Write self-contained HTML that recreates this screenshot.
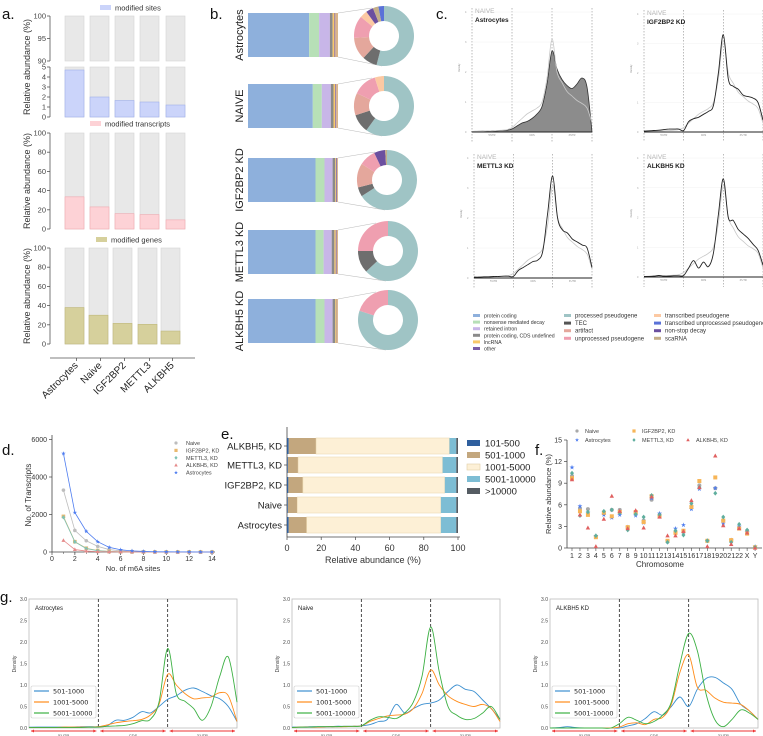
<!DOCTYPE html>
<html><head><meta charset="utf-8"><style>
html,body{margin:0;padding:0;background:#fff;}
svg{display:block;font-family:"Liberation Sans",sans-serif;}
</style></head><body>
<svg id="fig" width="763" height="736" viewBox="0 0 763 736" xmlns="http://www.w3.org/2000/svg"></svg>
<script>
// ---------- data ----------
const aCats=['Astrocytes','Naive','IGF2BP2','METTL3','ALKBH5'];
const aSites=[4.7,2.0,1.65,1.5,1.2];
const aTranscripts=[33.5,23,16,15,9.5];
const aGenes=[38,30,21.5,20.5,13.5];

const bSamples=['Astrocytes','NAIVE','IGF2BP2 KD','METTL3 KD','ALKBH5 KD'];
const bTypes=['protein coding','nonsense mediated decay','retained intron','protein coding, CDS undefined','lncRNA','other','pseudogenes'];
const bAstro=[68,11,12,3,2,1,3];
const bNaive=[72,10,10,3,2,1,2];
const bIgf=[75,10,9,3,1,1,1];
const bMettl=[75,9,9,3,1.5,1,1.5];
const bAlk=[75,10,9,3,1.5,0.5,1];
const pTypes=['processed pseudogene','TEC','artifact','unprocessed pseudogene','transcribed pseudogene','non-stop decay','scaRNA','transcribed unprocessed pseudogene'];
const pAstro=[54,8,12,12,4,4,3,3];
const pNaive=[60,10,12,13,5,0,0,0];
const pIgf=[66,5,13,9,0,6,1,0];
const pMettl=[63,12,0,25,0,0,0,0];
const pAlk=[80,0,0,20,0,0,0,0];

const cNaive=[0.02,0.03,0.03,0.04,0.04,0.05,0.06,0.08,0.15,0.3,0.45,0.6,0.7,0.8,1.0,1.8,3.1,2.0,1.65,1.35,1.2,1.05,0.95,0.8,0.3];
const cAstro=[0.02,0.02,0.03,0.03,0.04,0.04,0.05,0.06,0.1,0.2,0.3,0.35,0.45,0.6,0.85,1.6,2.7,2.1,1.75,1.55,1.45,1.6,1.8,1.5,0.0];
const cIgf=[0.03,0.04,0.05,0.06,0.08,0.1,0.1,0.1,0.05,0.35,0.45,0.5,0.6,0.7,0.9,2.0,3.3,1.8,1.55,1.45,1.25,1.2,1.15,1.0,0.4];
const cMettl=[0.03,0.03,0.04,0.04,0.05,0.05,0.06,0.06,0.05,0.25,0.35,0.45,0.55,0.6,0.9,2.2,3.4,2.0,1.6,1.5,1.3,1.2,1.1,1.0,0.35];
const cAlk=[0.02,0.02,0.03,0.05,0.03,0.03,0.04,0.04,0.05,0.3,0.55,0.3,0.5,0.35,0.8,2.1,3.3,2.0,1.9,1.6,1.45,1.3,1.1,0.9,0.4];

const dSites=[1,2,3,4,5,6,7,8,9,10,11,12,13,14];
const dNaive=[3300,1150,600,300,130,60,30,15,8,4,2,1,1,0];
const dIgf=[1900,550,200,80,30,15,8,4,2,1,0,0,0,0];
const dMettl=[1850,540,180,70,28,12,6,3,1,1,0,0,0,0];
const dAlk=[620,130,50,20,10,5,2,1,0,0,0,0,0,0];
const dAstro=[5250,2100,1100,550,250,120,60,30,15,10,5,3,2,1];
const dTicksX=[0,2,4,6,8,10,12,14];
const dTicksY=[0,2000,4000,6000];

const eRows=['ALKBH5, KD','METTL3, KD','IGF2BP2, KD','Naive','Astrocytes'];
const eBins=['101-500','501-1000','1001-5000','5001-10000','>10000'];
const e101=[1,0.5,0.8,0.5,1];
const e501=[16,6,8.5,5.5,10.5];
const e1001=[78,84.5,83,84,78.5];
const e5001=[4,8,6.7,9,9];
const e10000=[1,1,1,1,1];
const eTicks=[0,20,40,60,80,100];

const fChr=['1','2','3','4','5','6','7','8','9','10','11','12','13','14','15','16','17','18','19','20','21','22','X','Y'];
const fNaive=[10.0,5.5,5.4,1.6,4.8,5.3,5.3,2.8,4.8,3.8,6.7,4.6,0.9,2.2,2.2,5.8,8.7,1.0,8.3,3.8,1.0,2.8,2.4,0.1];
const fAstro=[11.2,5.8,4.9,1.7,4.6,4.2,4.6,2.9,4.5,3.5,6.9,4.8,0.9,2.7,3.2,5.4,8.2,1.0,8.3,3.4,1.1,3.0,2.2,0.2];
const fIgf=[9.7,5.1,4.6,1.5,4.9,4.4,5.0,2.9,5.0,3.6,7.2,4.4,1.0,2.1,2.4,5.7,9.3,1.0,9.8,3.8,1.1,2.7,2.0,0.1];
const fMettl=[10.4,4.5,5.0,1.7,5.1,5.3,4.9,2.5,4.7,4.3,7.3,4.6,0.8,2.4,1.8,6.2,8.4,1.0,7.6,4.3,0.8,3.3,2.5,0.1];
const fAlk=[9.5,4.6,2.8,0.2,4.0,7.2,5.1,2.7,5.2,2.8,7.1,4.3,1.7,1.7,2.3,6.6,8.4,0.2,12.8,3.1,0.5,2.7,2.1,0.0];
const fTicks=[0,3,6,9,12,15];

const gAstroBlue=[0.02,0.02,0.02,0.02,0.02,0.02,0.03,0.03,0.03,0.05,0.18,0.18,0.25,0.38,0.35,0.5,0.67,0.75,0.88,0.93,0.85,0.75,0.68,0.5,0.15];
const gAstroOrange=[0.01,0.01,0.01,0.01,0.02,0.02,0.02,0.02,0.03,0.07,0.12,0.15,0.17,0.2,0.3,0.55,1.25,1.0,0.8,0.68,0.7,0.72,0.82,0.75,0.15];
const gAstroGreen=[0.01,0.01,0.01,0.01,0.01,0.01,0.01,0.02,0.02,0.04,0.05,0.06,0.1,0.17,0.2,0.6,1.85,0.8,0.62,0.45,0.18,0.5,1.2,1.65,0.6];
const gNaiveBlue=[0.02,0.02,0.03,0.03,0.03,0.04,0.04,0.04,0.05,0.08,0.15,0.2,0.55,0.35,0.45,0.55,0.58,0.65,0.85,1.0,0.9,0.85,0.65,0.45,0.2];
const gNaiveOrange=[0.01,0.02,0.02,0.02,0.03,0.03,0.03,0.04,0.05,0.15,0.22,0.28,0.3,0.32,0.45,0.8,1.35,1.0,0.75,0.62,0.55,0.5,0.55,0.45,0.15];
const gNaiveGreen=[0.01,0.02,0.02,0.03,0.03,0.03,0.04,0.04,0.05,0.18,0.26,0.25,0.22,0.35,0.6,1.2,2.35,1.3,0.5,0.3,0.2,0.22,0.35,0.5,0.2];
const gAlkBlue=[0.0,0.01,0.03,0.01,0.0,0.0,0.0,0.0,0.0,0.05,0.1,0.22,0.38,0.3,0.5,0.72,0.5,0.9,1.15,1.18,1.05,0.9,0.55,0.4,0.2];
const gAlkOrange=[0,0,0,0,0,0,0,0,0.02,0.1,0.12,0.08,0.2,0.25,0.55,1.3,1.7,0.95,0.88,0.7,0.6,0.58,0.55,0.4,0.2];
const gAlkGreen=[0,0,0,0,0,0,0,0,0.1,0.25,0.18,0.1,0.15,0.3,0.6,1.5,2.2,1.8,0.8,0.2,0.03,0.2,0.42,0.35,0.2];
const gTicks=[0,0.5,1,1.5,2,2.5,3];

// ---------- helpers ----------
const NS='http://www.w3.org/2000/svg';
const svg=document.getElementById('fig');
function mk(tag,attrs,parent){const e=document.createElementNS(NS,tag);for(const k in attrs)e.setAttribute(k,attrs[k]);(parent||svg).appendChild(e);return e;}
function nm(e,n){


return e;}
function txt(x,y,s,size,attrs){const e=mk('text',Object.assign({x:x,y:y,'font-size':size,fill:'#222'},attrs||{}));e.textContent=s;return e;}
function line(x1,y1,x2,y2,st,w,extra){return mk('line',Object.assign({x1:x1,y1:y1,x2:x2,y2:y2,stroke:st,'stroke-width':w||1},extra||{}));}
function smooth(pts){let d='M'+pts[0][0]+','+pts[0][1];for(let i=0;i<pts.length-1;i++){const p0=pts[i-1]||pts[i],p1=pts[i],p2=pts[i+1],p3=pts[i+2]||p2;
const c1x=p1[0]+(p2[0]-p0[0])/6,c1y=p1[1]+(p2[1]-p0[1])/6,c2x=p2[0]-(p3[0]-p1[0])/6,c2y=p2[1]-(p3[1]-p1[1])/6;
d+=' C'+c1x.toFixed(1)+','+c1y.toFixed(1)+' '+c2x.toFixed(1)+','+c2y.toFixed(1)+' '+p2[0].toFixed(1)+','+p2[1].toFixed(1);}return d;}
function marker(type,x,y,col,s){s=s||2.2;let e;
if(type==='circle')e=mk('circle',{cx:x,cy:y,r:s,fill:col});
else if(type==='square')e=mk('rect',{x:x-s,y:y-s,width:2*s,height:2*s,fill:col});
else if(type==='tri')e=mk('path',{d:`M${x},${y-s*1.2} L${x+s*1.1},${y+s*0.8} L${x-s*1.1},${y+s*0.8}Z`,fill:col});
else if(type==='diamond')e=mk('path',{d:`M${x},${y-s*1.2} L${x+s},${y} L${x},${y+s*1.2} L${x-s},${y}Z`,fill:col});
else {let p='';for(let i=0;i<10;i++){const r=i%2?s*0.5:s*1.3,a=-Math.PI/2+i*Math.PI/5;p+=(i?'L':'M')+(x+r*Math.cos(a)).toFixed(1)+','+(y+r*Math.sin(a)).toFixed(1);}e=mk('path',{d:p+'Z',fill:col});}
return e;}

// ---------- panel labels ----------
[['a.',2,19],['b.',210,19],['c.',436,19],['d.',2,455],['e.',221,439],['f.',535,455],['g.',0,602]].forEach(l=>{
const e=txt(l[1],l[2],l[0],15,{fill:'#111'});
nm(e,'panel-label-'+l[0][0]);});

// ---------- panel a ----------
const aX=[65,90,115,140,166], aXb=[65,89,113,138,161], aW=19;
const ySitesLow=v=>117-v*10, ySitesHigh=v=>61-(v-90)*4.5;
const yMid=v=>229-v*0.96, yBot=v=>344-v*0.96;
function aAxis(ticks,yf,name){const ax=line(50,yf(ticks[ticks.length-1]),50,yf(ticks[0]),'#555',0.8);nm(ax,name+'-y-axis');
ticks.forEach(t=>{const tk=line(47,yf(t),50,yf(t),'#555',0.8);nm(tk,name+'-tick');const lb=txt(46,yf(t)+2.5,String(t),7.5,{'text-anchor':'end',fill:'#444'});nm(lb,name+'-tick-label');});}
aAxis([90,95,100],ySitesHigh,'sites-upper');aAxis([0,1,2,3,4,5],ySitesLow,'sites-lower');
aAxis([0,20,40,60,80,100],yMid,'transcripts');aAxis([0,20,40,60,80,100],yBot,'genes');
aCats.forEach((c,i)=>{
 let r=mk('rect',{x:aX[i],y:16,width:aW,height:45,fill:'#e8e8e8',stroke:'#d4d4d4','stroke-width':0.6});nm(r,'sites-bg-upper-'+c);
 r=mk('rect',{x:aX[i],y:67,width:aW,height:50,fill:'#e8e8e8',stroke:'#d4d4d4','stroke-width':0.6});nm(r,'sites-bg-'+c);
 r=mk('rect',{x:aX[i],y:ySitesLow(aSites[i]),width:aW,height:117-ySitesLow(aSites[i]),fill:'#cbd4fa',stroke:'#9fb0ea','stroke-width':0.6});nm(r,'sites-bar-'+c);
 r=mk('rect',{x:aX[i],y:yMid(100),width:aW,height:96,fill:'#e8e8e8',stroke:'#d4d4d4','stroke-width':0.6});nm(r,'transcripts-bg-'+c);
 r=mk('rect',{x:aX[i],y:yMid(aTranscripts[i]),width:aW,height:229-yMid(aTranscripts[i]),fill:'#fdd2d6',stroke:'#f0a9b0','stroke-width':0.6});nm(r,'transcripts-bar-'+c);
 r=mk('rect',{x:aXb[i],y:yBot(100),width:aW,height:96,fill:'#e8e8e8',stroke:'#d4d4d4','stroke-width':0.6});nm(r,'genes-bg-'+c);
 r=mk('rect',{x:aXb[i],y:yBot(aGenes[i]),width:aW,height:344-yBot(aGenes[i]),fill:'#d6d09c',stroke:'#bfb87c','stroke-width':0.6});nm(r,'genes-bar-'+c);
 const cx=aXb[i]+aW/2+2;
 const tk=line(cx,358,cx,361,'#555',0.8);nm(tk,'a-x-tick');
 const lb=txt(cx+2,366,c,10,{'text-anchor':'end',transform:`rotate(-45 ${cx+2} 366)`});nm(lb,'a-x-label-'+c);
});
nm(line(50,358,195,358,'#555',0.8),'a-x-axis');
[[100,8,'modified sites','#cbd4fa'],[90,124,'modified transcripts','#fdd2d6'],[96,240,'modified genes','#d6d09c']].forEach(l=>{
 const s=mk('rect',{x:l[0],y:l[1]-3,width:11,height:5,fill:l[3]});nm(s,'a-legend-swatch');
 const t=txt(l[0]+15,l[1]+2.5,l[2],7.5,{fill:'#333'});nm(t,'a-legend-'+l[2].replace(' ','-'));});
[[67],[181],[296]].forEach((y,i)=>{const t=txt(30,y[0],'Relative abundance (%)',9,{'text-anchor':'middle',transform:`rotate(-90 30 ${y[0]})`,fill:'#333'});nm(t,'a-y-axis-title');});

// ---------- panel b ----------
const bColors=['#8eb0dc','#b7e0b7','#c8b6e8','#8a8a8a','#f8c96a','#7b5ea7','#d9b48a'];
const pColors=['#9fc4c5','#6e6e6e','#e4a79c','#ef9fb0','#fcc9a3','#6b4f9f','#c4ae88','#5a72d8'];
const bData=[bAstro,bNaive,bIgf,bMettl,bAlk], pData=[pAstro,pNaive,pIgf,pMettl,pAlk];
const bTop=[13,84,158,230,299], bH=44, bx=v=>248+v*0.9;
const dCx=[384,384,387,388,388], dCy=[36,106,180,251,320], R=30, r0=15;
bSamples.forEach((s,i)=>{
 let acc=0;
 bData[i].forEach((v,j)=>{const r=mk('rect',{x:bx(acc),y:bTop[i],width:v*0.9,height:bH,fill:bColors[j]});nm(r,'b-bar-'+bTypes[j].replace(/[ ,]+/g,'-'));acc+=v;});
 const cy=bTop[i]+bH/2;
 const lb=txt(243,cy,s,11,{'text-anchor':'middle',transform:`rotate(-90 243 ${cy})`,fill:'#222'});nm(lb,'b-row-label-'+s);
 const cx=dCx[i],dy=dCy[i];
 nm(line(bx(100),bTop[i],cx-12,dy-R+2,'#bbb',0.6),'b-connector-top');
 nm(line(bx(100),bTop[i]+bH,cx-2,dy+R,'#bbb',0.6),'b-connector-bottom');
 const tot=pData[i].reduce((a,b)=>a+b,0);let a0=0;
 pData[i].forEach((v,j)=>{if(!v)return;const a1=a0+v/tot*2*Math.PI;
  const p=(a,rr)=>[cx+rr*Math.sin(a),dy-rr*Math.cos(a)];const lg=(a1-a0)>Math.PI?1:0;
  const [x0,y0]=p(a0,R),[x1,y1]=p(a1,R),[x2,y2]=p(a1,r0),[x3,y3]=p(a0,r0);
  const sl=mk('path',{d:`M${x0},${y0} A${R},${R} 0 ${lg} 1 ${x1},${y1} L${x2},${y2} A${r0},${r0} 0 ${lg} 0 ${x3},${y3}Z`,fill:pColors[j]});
  nm(sl,'b-donut-slice-'+pTypes[j].replace(/ /g,'-'));a0=a1;});
});

// ---------- panel c ----------
const cPlots=[{L:472,R:592,base:132,top:12,name:'Astrocytes',d:cAstro,fill:true},{L:644,R:763,base:132,top:14,name:'IGF2BP2 KD',d:cIgf},
{L:474,R:592,base:278,top:158,name:'METTL3 KD',d:cMettl},{L:644,R:763,base:277,top:158,name:'ALKBH5 KD',d:cAlk}];
cPlots.forEach((p,k)=>{
 const w=p.R-p.L, gx=t=>p.L+t/24*w, gy=v=>p.base-v*(p.base-p.top)/4;
 [0,1/3,2/3,1].forEach(f=>nm(line(p.L+f*w,p.top-4,p.L+f*w,p.base+10,'#777',0.5,{'stroke-dasharray':'1.5,1.5'}),'c-region-divider'));
 [0,1,2,3,4].forEach(v=>{nm(line(p.L,gy(v),p.R,gy(v),'#f0f0f0',0.5),'c-gridline');nm(txt(p.L-7,gy(v)+1,String(v),2.5,{fill:'#999'}),'c-tick-label');});
 const pts=p.d.map((v,i)=>[gx(i),gy(v)]);
 if(p.fill){nm(mk('path',{d:smooth(pts)+` L${p.R},${p.base} L${p.L},${p.base}Z`,fill:'#8c8c8c',stroke:'#333','stroke-width':0.8}),'c-astrocytes-density-area');}
 const np=cNaive.map((v,i)=>[gx(i),gy(v)]);
 nm(mk('path',{d:smooth(np),fill:'none',stroke:'#c8c8c8','stroke-width':0.8}),'c-naive-density-line');
 if(!p.fill)nm(mk('path',{d:smooth(pts),fill:'none',stroke:'#222','stroke-width':0.9}),'c-sample-density-line');
 nm(line(p.L,p.base,p.R,p.base,'#222',1),'c-x-axis');
 ['5\'UTR','CDS','3\'UTR'].forEach((s,j)=>nm(txt(p.L+(j+0.5)*w/3,p.base+4,s,2.5,{'text-anchor':'middle',fill:'#888'}),'c-region-label'));
 nm(txt(p.L+3,p.top+1,'NAIVE',6.5,{fill:'#b5b5b5'}),'c-naive-label');
 nm(txt(p.L+3,p.top+10,p.name,6.5,{fill:'#222','font-weight':'bold'}),'c-sample-label');
 nm(txt(p.L-12,(p.base+p.top)/2,'Density',2.5,{fill:'#888',transform:`rotate(-90 ${p.L-12} ${(p.base+p.top)/2})`}),'c-y-title');
});
const cLeg=[[473,['protein coding','nonsense mediated decay','retained intron','protein coding, CDS undefined','lncRNA','other'],['#8eb0dc','#b7e0b7','#c8b6e8','#8a8a8a','#f8c96a','#7b5ea7']],
[564,['processed pseudogene','TEC','artifact','unprocessed pseudogene'],['#9fc4c5','#555','#e4a79c','#ef9fb0']],
[654,['transcribed pseudogene','transcribed unprocessed pseudogene','non-stop decay','scaRNA'],['#fcc9a3','#5a72d8','#6b4f9f','#c4ae88']]];
cLeg.forEach((col,ci)=>col[1].forEach((s,j)=>{const y=316+j*(ci===0?6.6:7.6);
 nm(mk('rect',{x:col[0],y:y-2,width:7,height:3,fill:col[2][j]}),'c-legend-swatch');
 nm(txt(col[0]+11,y+1.5,s,ci===0?5.2:6,{fill:'#333'}),'c-legend-'+s.replace(/[ ,]+/g,'-'));}));

// ---------- panel d ----------
const dx=v=>52+v*11.43, dy=v=>552-v*0.01875;
nm(line(52,435,52,552,'#444',0.8),'d-y-axis');nm(line(52,552,215,552,'#444',0.8),'d-x-axis');
dTicksX.forEach(t=>{nm(line(dx(t),552,dx(t),555,'#444',0.7),'d-x-tick');nm(txt(dx(t),561,String(t),7,{'text-anchor':'middle',fill:'#333'}),'d-x-tick-label');});
dSites.forEach(t=>nm(line(dx(t),552,dx(t),554,'#444',0.5),'d-x-minor-tick'));
dTicksY.forEach(t=>{nm(line(49,dy(t),52,dy(t),'#444',0.7),'d-y-tick');nm(txt(47,dy(t)+2.5,String(t),7,{'text-anchor':'end',fill:'#333'}),'d-y-tick-label');});
nm(txt(133,571,'No. of m6A sites',7.5,{'text-anchor':'middle',fill:'#333'}),'d-x-axis-title');
nm(txt(31,495,'No. of Transcripts',8,{'text-anchor':'middle',fill:'#333',transform:'rotate(-90 31 495)'}),'d-y-axis-title');
const dSeries=[['Naive',dNaive,'#bdbdbd','circle'],['IGF2BP2, KD',dIgf,'#e8b86e','square'],['METTL3, KD',dMettl,'#7ec2b5','diamond'],['ALKBH5, KD',dAlk,'#e58a8a','tri'],['Astrocytes',dAstro,'#4d7cf0','star']];
dSeries.forEach((s,k)=>{
 nm(mk('path',{d:s[1].map((v,i)=>(i?'L':'M')+dx(dSites[i])+','+dy(v)).join(' '),fill:'none',stroke:s[2],'stroke-width':0.8}),'d-line-'+s[0]);
 s[1].forEach((v,i)=>nm(marker(s[3],dx(dSites[i]),dy(v),s[2],1.8),'d-point-'+s[0]));
 const ly=443+k*7.4;nm(marker(s[3],176,ly,s[2],1.6),'d-legend-marker');nm(txt(186,ly+2,s[0],5.5,{fill:'#444'}),'d-legend-'+s[0]);
});

// ---------- panel e ----------
const ex=v=>287+v*1.71, eCy=[446,465,485,505,525], eH=16;
const eCols=['#2f5f9e','#c3a77e','#fdf0d6','#7dbdd4','#555c63'], eData=[e101,e501,e1001,e5001,e10000];
nm(line(287,427,287,537,'#444',0.8),'e-y-axis');nm(line(287,537,460,537,'#444',0.8),'e-x-axis');
eRows.forEach((r,i)=>{let acc=0;eData.forEach((arr,j)=>{const el=mk('rect',{x:ex(acc),y:eCy[i]-eH/2,width:arr[i]*1.71,height:eH,fill:eCols[j],stroke:j===2?'#ecd9b3':'none','stroke-width':0.6});nm(el,'e-bar-'+eBins[j]);acc+=arr[i];});
 nm(line(284,eCy[i],287,eCy[i],'#444',0.7),'e-y-tick');nm(txt(282,eCy[i]+3.5,r,9.5,{'text-anchor':'end',fill:'#222'}),'e-row-label-'+r);});
eTicks.forEach(t=>{nm(line(ex(t),537,ex(t),540,'#444',0.7),'e-x-tick');nm(txt(ex(t),551,String(t),9,{'text-anchor':'middle',fill:'#333'}),'e-x-tick-label');});
nm(txt(373,563,'Relative abundance (%)',9,{'text-anchor':'middle',fill:'#333'}),'e-x-axis-title');
eBins.forEach((b,j)=>{const y=443+j*12;nm(mk('rect',{x:467,y:y-3,width:13,height:6,fill:eCols[j],stroke:j===2?'#e2cfa6':'none','stroke-width':0.6}),'e-legend-swatch');nm(txt(485,y+3.5,b,9.5,{fill:'#222'}),'e-legend-'+b);});

// ---------- panel f ----------
const fx=i=>572+i*7.96, fy=v=>548-v*7.2;
nm(line(567,440,567,548,'#444',0.8),'f-y-axis');nm(line(567,548,762,548,'#444',0.8),'f-x-axis');
fTicks.forEach(t=>{nm(line(564,fy(t),567,fy(t),'#444',0.7),'f-y-tick');nm(txt(562,fy(t)+2.5,String(t),7,{'text-anchor':'end',fill:'#333'}),'f-y-tick-label');});
fChr.forEach((c,i)=>{nm(line(fx(i),548,fx(i),551,'#444',0.6),'f-x-tick');nm(txt(fx(i),558,c,7,{'text-anchor':'middle',fill:'#333'}),'f-x-tick-label');});
nm(txt(660,567,'Chromosome',8,{'text-anchor':'middle',fill:'#333'}),'f-x-axis-title');
nm(txt(551,494,'Relative abundance (%)',7.5,{'text-anchor':'middle',fill:'#333',transform:'rotate(-90 551 494)'}),'f-y-axis-title');
const fSeries=[['Naive',fNaive,'#a9a9a9','circle',577,431],['Astrocytes',fAstro,'#4d7cf0','star',577,440],['IGF2BP2, KD',fIgf,'#f7b557','square',634,431],['METTL3, KD',fMettl,'#5fae9e','diamond',634,440],['ALKBH5, KD',fAlk,'#e06060','tri',688,440]];
fSeries.forEach(s=>{s[1].forEach((v,i)=>nm(marker(s[3],fx(i),fy(v),s[2],2),'f-point-'+s[0]));
 nm(marker(s[3],s[4],s[5],s[2],1.6),'f-legend-marker');nm(txt(s[4]+8,s[5]+2,s[0],5.5,{fill:'#444'}),'f-legend-'+s[0]);});

// ---------- panel g ----------
const gPlots=[[29,'Astrocytes',gAstroBlue,gAstroOrange,gAstroGreen],[292,'Naive',gNaiveBlue,gNaiveOrange,gNaiveGreen],[550,'ALKBH5 KD',gAlkBlue,gAlkOrange,gAlkGreen]];
const gCols=['#3b8fd0','#ff8c1a','#3cb043'], gLabs=['501-1000','1001-5000','5001-10000'];
gPlots.forEach(p=>{const L=p[0],W=208,gx=t=>L+t/24*W,gy=v=>728-v*43;
 nm(mk('rect',{x:L,y:599,width:W,height:129,fill:'none',stroke:'#bdbdbd','stroke-width':0.8}),'g-plot-frame');
 gTicks.forEach(t=>nm(txt(L-2,gy(t)+2,t.toFixed(1),5,{'text-anchor':'end',fill:'#444'}),'g-y-tick-label'));
 nm(txt(L-13,664,'Density',5,{'text-anchor':'middle',fill:'#444',transform:`rotate(-90 ${L-13} 664)`}),'g-y-axis-title');
 [1/3,2/3].forEach(f=>nm(line(L+f*W,599,L+f*W,728,'#222',0.8,{'stroke-dasharray':'3,2'}),'g-region-divider'));
 [2,3,4].forEach(j=>{const pts=p[j].map((v,i)=>[gx(i),gy(v)]);nm(mk('path',{d:smooth(pts),fill:'none',stroke:gCols[j-2],'stroke-width':0.9}),'g-line-'+gLabs[j-2]);});
 nm(txt(L+6,610,p[1],6,{fill:'#222'}),'g-sample-label');
 nm(mk('rect',{x:L+2,y:686,width:65,height:32,fill:'#fff','fill-opacity':0.85,stroke:'#ccc','stroke-width':0.6,rx:1.5}),'g-legend-box');
 gLabs.forEach((l,k)=>{const y=691+k*11;nm(line(L+5,y,L+20,y,gCols[k],1.2),'g-legend-line');nm(txt(L+24,y+2.5,l,6.5,{fill:'#222','font-family':'DejaVu Sans, sans-serif'}),'g-legend-'+l);});
 ['5\'UTR','CDS','3\'UTR'].forEach((s,j)=>{const a=L+j*W/3+2,b=L+(j+1)*W/3-2;
  nm(line(a,731,b,731,'#e33',0.9),'g-region-arrow');
  nm(mk('path',{d:`M${a},731 l3,-1.5 v3Z M${b},731 l-3,-1.5 v3Z`,fill:'#e33'}),'g-arrowheads');
  nm(txt((a+b)/2,737,s,4,{'text-anchor':'middle',fill:'#444'}),'g-region-label');});
});
</script>
</body></html>
